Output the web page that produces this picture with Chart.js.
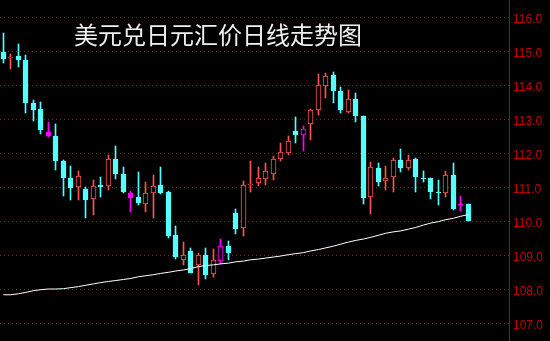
<!DOCTYPE html>
<html>
<head>
<meta charset="utf-8">
<script src="https://cdn.jsdelivr.net/npm/chart.js@4.4.1/dist/chart.umd.min.js"></script>
<style>
  html, body { margin: 0; padding: 0; background: #000; }
  #wrap { position: relative; width: 550px; height: 341px; background: #000; overflow: hidden; }
  #biaoti { position: absolute; left: 74px; top: 22px; color: #f0f0f0; font: 24px/1 "Noto Sans CJK SC", sans-serif; white-space: nowrap; }
  canvas { display: block; }
</style>
</head>
<body>
<div id="wrap">
  <canvas id="kline" width="550" height="341"></canvas>
  <div id="biaoti">美元兑日元汇价日线走势图</div>
</div>
<script>
// daily candles
var acilis = [114.96,114.78,114.86,114.74,113.48,113.30,112.63,112.51,111.77,111.27,
  111.00,110.95,110.66,111.07,111.02,111.83,111.39,110.83,110.71,110.51,
  110.83,111.07,110.86,109.60,108.86,109.13,108.71,109.01,108.45,108.83,
  109.27,110.24,109.80,111.07,111.13,111.24,111.39,111.83,112.01,112.66,
  112.54,112.86,113.27,113.98,114.30,113.83,113.21,113.60,113.10,110.71,
  111.57,111.19,111.30,111.80,111.57,111.83,111.27,111.26,110.84,110.83,
  111.36,110.49,110.51];
var yuksek = [115.53,114.92,115.21,114.89,113.57,113.51,112.92,112.86,111.80,111.61,
  111.48,110.99,111.21,111.30,111.95,112.21,111.60,110.89,111.45,111.16,
  111.36,111.60,110.89,109.86,109.39,109.21,109.07,109.21,109.19,109.48,
  109.42,110.36,111.19,111.77,111.60,111.71,111.92,112.30,112.51,113.07,
  112.80,113.30,114.33,114.36,114.39,113.95,113.86,113.77,113.10,111.74,
  111.71,111.63,111.86,112.13,111.95,111.86,111.48,111.27,111.21,111.48,
  111.71,110.74,110.51];
var dusuk = [114.65,114.48,114.52,113.19,112.93,112.57,112.46,111.51,110.74,110.63,
  110.63,110.10,110.19,110.72,110.92,111.24,110.83,110.27,110.48,110.27,
  110.10,110.80,109.51,108.89,108.71,108.48,108.13,108.30,108.36,108.74,
  108.86,109.63,109.57,110.86,111.04,111.07,111.21,111.77,111.95,112.30,
  112.07,112.39,113.13,113.63,113.48,113.19,113.19,112.92,110.51,110.21,
  111.04,110.92,110.86,111.45,111.51,110.86,111.16,110.66,110.48,110.71,
  110.33,110.30,110.01];
var kapanis = [114.77,114.82,114.74,113.46,113.27,112.69,112.51,111.77,111.27,110.98,
  111.33,110.63,111.04,111.01,111.83,111.39,110.86,110.69,110.54,110.83,
  111.04,110.83,109.57,108.95,109.01,108.48,109.01,108.42,108.86,109.27,
  109.07,109.77,111.07,111.10,111.27,111.48,111.83,112.04,112.36,112.54,
  112.71,113.27,114.01,114.27,113.83,113.27,113.60,113.10,110.69,111.60,
  111.16,111.27,111.80,111.57,111.80,111.30,111.25,110.86,110.82,111.36,
  110.36,110.47,110.01];
// moving average line
var ortalama = [107.83,107.83,107.86,107.90,107.95,107.98,108.00,108.00,108.01,108.04,
  108.07,108.11,108.15,108.19,108.22,108.25,108.28,108.31,108.36,108.39,
  108.42,108.46,108.49,108.53,108.56,108.60,108.66,108.69,108.71,108.74,
  108.76,108.80,108.82,108.86,108.88,108.91,108.94,108.97,109.01,109.04,
  109.07,109.12,109.16,109.21,109.26,109.32,109.38,109.43,109.47,109.52,
  109.58,109.64,109.68,109.71,109.76,109.81,109.88,109.94,109.98,110.04,
  110.08,110.14,110.19];
// candles drawn in magenta
var isaretli = [6,17,29,40,61];
var fiyatEtiket = [107,108,109,110,111,112,113,114,115,116];

var KIRMIZI = '#ff5454', CAMGOBEGI = '#54ffff', MOR = '#ff00ff';

function renk(i){
  if (isaretli.indexOf(i) >= 0) return MOR;
  return kapanis[i] > acilis[i] ? KIRMIZI : CAMGOBEGI;
}
function dolgu(i){
  return kapanis[i] > acilis[i] ? '#000000' : renk(i);
}

var govde = acilis.map(function(o, i){ return {x: i, y: [o, kapanis[i]]}; });
var fitil = dusuk.map(function(l, i){ return {x: i, y: [l, yuksek[i]]}; });
var ortCizgi = ortalama.map(function(v, i){ return {x: i, y: v}; });

// snap bars onto whole pixels so thin wicks stay sharp
var pikselHizala = {
  id: 'pikselHizala',
  afterDatasetsUpdate: function(chart){
    chart.data.datasets.forEach(function(ds, k){
      var meta = chart.getDatasetMeta(k);
      if (meta.type !== 'bar') return;
      meta.data.forEach(function(el){
        el.x = Math.floor(el.x) + 0.5;
        el.y = Math.round(el.y);
        el.base = Math.round(el.base);
        if (el.y === el.base) el.base = el.y + 1;
      });
    });
  }
};

function dolguSifirla(ax){
  ax.paddingTop = 0; ax.paddingBottom = 0;
  ax.paddingLeft = 0; ax.paddingRight = 0;
}

new Chart(document.getElementById('kline'), {
  data: {
    datasets: [
      { type: 'line', data: ortCizgi, borderColor: '#ffffff', borderWidth: 1,
        pointRadius: 0, tension: 0, fill: false },
      { type: 'bar', data: govde, barThickness: 5, grouped: false,
        backgroundColor: acilis.map(function(o, i){ return dolgu(i); }),
        borderColor: acilis.map(function(o, i){ return renk(i); }),
        borderWidth: 1, borderSkipped: false },
      { type: 'bar', data: fitil, barThickness: 1, grouped: false,
        backgroundColor: acilis.map(function(o, i){ return renk(i); }),
        borderWidth: 0 }
    ]
  },
  options: {
    responsive: false,
    devicePixelRatio: 1,
    animation: false,
    layout: { padding: 0 },
    plugins: { legend: { display: false }, tooltip: { enabled: false } },
    scales: {
      x: { type: 'linear', display: false, offset: false, grid: { offset: false },
        min: -0.45, max: 67.42, afterFit: dolguSifirla },
      y: {
        position: 'right',
        min: 106.4706, max: 116.5,
        afterBuildTicks: function(ax){ ax.ticks = fiyatEtiket.map(function(v){ return {value: v}; }); },
        afterFit: function(ax){ ax.width = 41; dolguSifirla(ax); },
        grid: { color: '#b40000', lineWidth: 1, drawTicks: false },
        border: { display: true, color: '#c00000', width: 1, dash: [1, 3] },
        ticks: {
          color: '#c00000', padding: 4, labelOffset: 3,
          font: { family: '"Liberation Sans", Arial, sans-serif', size: 12 },
          callback: function(v){ return Number(v).toFixed(1); }
        }
      }
    }
  },
  plugins: [pikselHizala]
});
</script>
</body>
</html>
